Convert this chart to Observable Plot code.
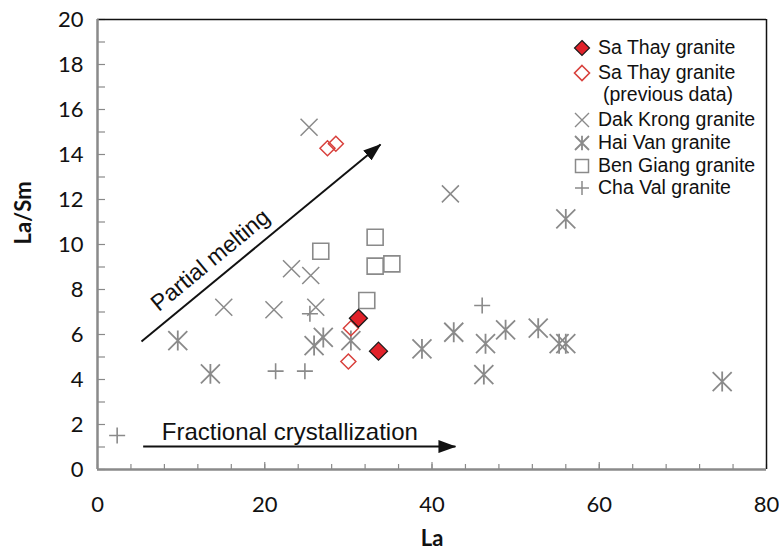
<!DOCTYPE html>
<html><head><meta charset="utf-8">
<script src="https://cdn.jsdelivr.net/npm/d3@7"></script>
<script src="https://cdn.jsdelivr.net/npm/@observablehq/plot@0.6"></script>
<style>
body{margin:0;background:#fff;}
#wrap{position:relative;width:779px;height:556px;}
#legend{position:absolute;left:570px;top:36px;font-family:"Liberation Sans",Arial,sans-serif;font-size:19.5px;color:#111;}
#legend .row{position:absolute;white-space:nowrap;height:23px;line-height:23px;}
#legend svg{position:absolute;left:0;top:3px;}
#legend span{position:absolute;left:28px;}
</style></head><body><div id="wrap"></div>
<script>
// ---- data ----
const saThayLa = [31.2, 33.6];
const saThayLaSm = [6.72, 5.26];
const saThayPrevLa = [27.5, 28.5, 30.3, 30.0];
const saThayPrevLaSm = [14.28, 14.48, 6.28, 4.80];
const dakKrongLa = [25.3, 42.2, 23.2, 25.5, 26.1, 15.1, 21.1];
const dakKrongLaSm = [15.21, 12.25, 8.92, 8.62, 7.21, 7.21, 7.10];
const haiVanLa = [9.6, 13.5, 25.9, 27.0, 30.3, 38.8, 42.6, 46.4, 48.8, 52.7, 55.2, 56.0, 46.2, 56.0, 74.7];
const haiVanLaSm = [5.73, 4.25, 5.51, 5.87, 5.73, 5.36, 6.10, 5.59, 6.21, 6.28, 5.59, 5.59, 4.22, 11.14, 3.91];
const benGiangLa = [33.2, 26.7, 33.2, 35.2, 32.2];
const benGiangLaSm = [10.32, 9.70, 9.04, 9.14, 7.51];
const chaValLa = [2.35, 21.3, 24.8, 25.4, 46.0];
const chaValLaSm = [1.51, 4.37, 4.37, 6.92, 7.29];

const xTickLabels = [0, 20, 40, 60, 80];
const yTickLabels = [0, 2, 4, 6, 8, 10, 12, 14, 16, 18, 20];
const xMinorTicks = d3.range(0, 81, 4);
const yMinorTicks = d3.range(0, 21, 1);

const arrowLabels = ["Partial melting", "Fractional crystallization"];
const arrowX1 = [5.26, 5.46], arrowY1 = [5.69, 1.02];
const arrowX2 = [33.84, 42.8], arrowY2 = [14.44, 1.02];
const labelX = [13.5, 23.0], labelY = [9.3, 1.65];

const legendNames = ["Sa Thay granite", "Sa Thay granite", "Dak Krong granite", "Hai Van granite", "Ben Giang granite", "Cha Val granite"];

// ---- helpers ----
const pts = (xs, ys) => xs.map((x, i) => ({x, y: ys[i]}));
const sym = (fn) => ({draw(ctx, size) { fn(ctx, Math.sqrt(size / Math.PI)); }});
const diamondS = sym((c, r) => { c.moveTo(0, -r); c.lineTo(r, 0); c.lineTo(0, r); c.lineTo(-r, 0); c.closePath(); });
const squareS = sym((c, r) => { c.rect(-r, -r, 2 * r, 2 * r); });
const timesS = sym((c, r) => { c.moveTo(-r, -r); c.lineTo(r, r); c.moveTo(-r, r); c.lineTo(r, -r); });
const plusS = sym((c, r) => { c.moveTo(-r, 0); c.lineTo(r, 0); c.moveTo(0, -r); c.lineTo(0, r); });
const starS = sym((c, r) => { c.moveTo(-r, -r); c.lineTo(r, r); c.moveTo(-r, r); c.lineTo(r, -r); c.moveTo(0, -r * 1.05); c.lineTo(0, r * 1.05); });

const grey = "#8a8a8a";
const annots = arrowLabels.map((t, i) => ({t, x1: arrowX1[i], y1: arrowY1[i], x2: arrowX2[i], y2: arrowY2[i], lx: labelX[i], ly: labelY[i]}));

const chart = Plot.plot({
  width: 779, height: 556,
  marginLeft: 97, marginRight: 13, marginTop: 19, marginBottom: 87,
  x: {domain: [0, 80]},
  y: {domain: [0, 20]},
  style: {fontFamily: "Lato, 'Open Sans', sans-serif", background: "#fff", color: "#111"},
  marks: [
    Plot.axisX({ticks: xTickLabels, tickSize: 0, tickPadding: 27, fontSize: 22, label: null}),
    Plot.axisX({ticks: xMinorTicks, tickSize: 5, dy: -5, tickFormat: () => "", stroke: grey, strokeWidth: 1.2, label: null}),
    Plot.axisX({ticks: [20, 40, 60], tickSize: 7, dy: -7, tickFormat: () => "", stroke: grey, strokeWidth: 1.2, label: null}),
    Plot.axisY({ticks: yTickLabels, tickSize: 0, tickPadding: 14, fontSize: 22, label: null}),
    Plot.axisY({ticks: yMinorTicks, tickSize: 8, dx: 8, tickFormat: () => "", stroke: grey, strokeWidth: 1.2, label: null}),
    Plot.ruleY([20], {stroke: "#111", strokeWidth: 1.5}),
    Plot.ruleX([80], {stroke: "#111", strokeWidth: 1.5}),
    Plot.ruleX([0], {stroke: grey, strokeWidth: 2.5}),
    Plot.ruleY([0], {stroke: grey, strokeWidth: 2.5}),
    Plot.text(["La"], {frameAnchor: "bottom", dy: 76, fontSize: 22, fontWeight: "bold"}),
    Plot.text(["La/Sm"], {frameAnchor: "left", dx: -74, rotate: -90, fontSize: 22, fontWeight: "bold"}),
    Plot.link(annots, {x1: "x1", y1: "y1", x2: "x2", y2: "y2", stroke: "#111", strokeWidth: 2}),
    Plot.text(annots.slice(0, 1), {x: "lx", y: "ly", text: "t", rotate: -39.5, fontSize: 23, fontFamily: "Liberation Sans, Arial, sans-serif", fill: "#111"}),
    Plot.text(annots.slice(1), {x: "lx", y: "ly", text: "t", fontSize: 24, fontFamily: "Liberation Sans, Arial, sans-serif", fill: "#111"}),
    Plot.dot(pts(chaValLa, chaValLaSm), {x: "x", y: "y", symbol: plusS, r: 8, stroke: grey, strokeWidth: 1.6, fill: "none"}),
    Plot.dot(pts(benGiangLa, benGiangLaSm), {x: "x", y: "y", symbol: squareS, r: 8, stroke: grey, strokeWidth: 1.6, fill: "none"}),
    Plot.dot(pts(dakKrongLa, dakKrongLaSm), {x: "x", y: "y", symbol: timesS, r: 8.5, stroke: grey, strokeWidth: 1.5, fill: "none"}),
    Plot.dot(pts(haiVanLa, haiVanLaSm), {x: "x", y: "y", symbol: starS, r: 9.5, stroke: grey, strokeWidth: 1.8, fill: "none"}),
    Plot.dot(pts(saThayPrevLa, saThayPrevLaSm), {x: "x", y: "y", symbol: diamondS, r: 7.5, stroke: "#d8403c", strokeWidth: 1.5, fill: "none"}),
    Plot.dot(pts(saThayLa, saThayLaSm), {x: "x", y: "y", symbol: diamondS, r: 9, stroke: "#1a1a1a", strokeWidth: 1.3, fill: "#e1222a"})
  ]
});

// filled arrowheads
const svg = d3.select(chart);
svg.append("defs").append("marker")
  .attr("id", "ah").attr("viewBox", "0 0 18 13").attr("refX", 17).attr("refY", 6.5)
  .attr("markerWidth", 18).attr("markerHeight", 13).attr("markerUnits", "userSpaceOnUse").attr("orient", "auto")
  .append("path").attr("d", "M0,0L18,6.5L0,13Z").attr("fill", "#111");
svg.selectAll('g[aria-label="link"] path').attr("marker-end", "url(#ah)");

const wrap = document.getElementById("wrap");
wrap.appendChild(chart);

// legend
const legendSymbols = [
  {s: diamondS, r: 7.5, stroke: "#1a1a1a", fill: "#e1222a", sw: 1.2},
  {s: diamondS, r: 7.5, stroke: "#d8403c", fill: "none", sw: 1.6},
  {s: timesS, r: 7, stroke: grey, fill: "none", sw: 1.4},
  {s: starS, r: 7, stroke: grey, fill: "none", sw: 1.8},
  {s: squareS, r: 6.5, stroke: grey, fill: "none", sw: 1.5},
  {s: plusS, r: 7, stroke: grey, fill: "none", sw: 1.5}
];
const rowTops = [0, 25, 72, 95, 118, 140];
const leg = document.createElement("div");
leg.id = "legend";
legendNames.forEach((name, i) => {
  const row = document.createElement("div");
  row.className = "row";
  row.style.top = rowTops[i] + "px";
  const ls = legendSymbols[i];
  const s = d3.create("svg").attr("width", 24).attr("height", 18);
  s.append("path").attr("transform", "translate(12,9)")
    .attr("d", d3.symbol(ls.s, Math.PI * ls.r * ls.r)())
    .attr("stroke", ls.stroke).attr("fill", ls.fill).attr("stroke-width", ls.sw);
  row.appendChild(s.node());
  const sp = document.createElement("span");
  sp.textContent = name;
  row.appendChild(sp);
  leg.appendChild(row);
});
const sub = document.createElement("div");
sub.className = "row";
sub.style.top = "47px";
const sp2 = document.createElement("span");
sp2.style.left = "33px";
sp2.textContent = "(previous data)";
sub.appendChild(sp2);
leg.appendChild(sub);
wrap.appendChild(leg);
</script></body></html>
